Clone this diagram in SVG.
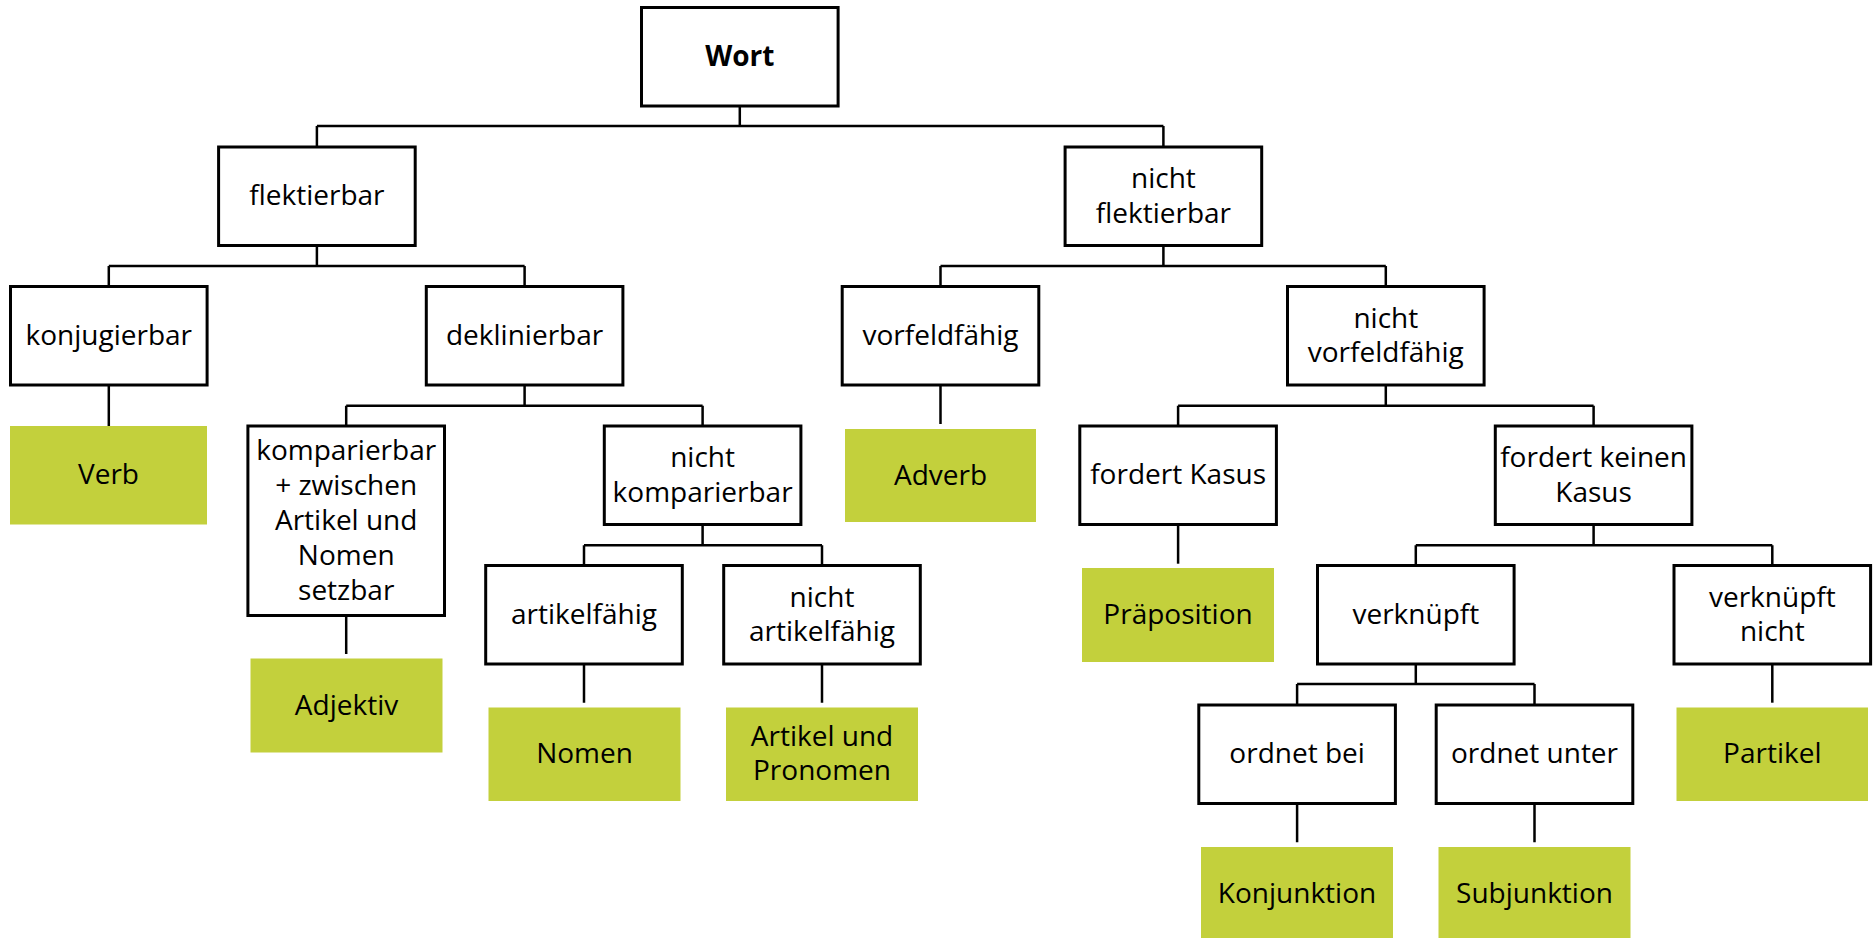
<svg xmlns="http://www.w3.org/2000/svg" width="1875" height="938" viewBox="0 0 1875 938">
<style>
.b{fill:#fff;stroke:#000;stroke-width:3}
.g{fill:#C3D03C;stroke:none}
.t{font-family:"Open Sans","Noto Sans","Liberation Sans",sans-serif;font-size:28px;fill:#000;text-anchor:middle}
.bold{font-weight:bold}
.c{fill:none;stroke:#000;stroke-width:2.5}
</style>
<rect width="1875" height="938" fill="#fff"/>
<g id="connectors" class="c">
<path d="M739.8,106V126M316.9,126H1163.4M316.9,126V147M1163.4,126V147"/>
<path d="M316.9,245.5V266M108.8,266H524.6M108.8,266V286.5M524.6,266V286.5"/>
<path d="M1163.4,245.5V266M940.5,266H1385.8M940.5,266V286.5M1385.8,266V286.5"/>
<path d="M108.8,385V426"/>
<path d="M524.6,385V405.7M346.2,405.7H702.6M346.2,405.7V426M702.6,405.7V426"/>
<path d="M940.5,385V424"/>
<path d="M1385.8,385V405.7M1178.1,405.7H1593.6M1178.1,405.7V426M1593.6,405.7V426"/>
<path d="M346.2,615.5V654"/>
<path d="M702.6,524.5V545.3M584,545.3H822M584,545.3V565.5M822,545.3V565.5"/>
<path d="M1178.1,524.5V563.7"/>
<path d="M1593.6,524.5V545.3M1415.8,545.3H1772.3M1415.8,545.3V565.5M1772.3,545.3V565.5"/>
<path d="M584,664V702.7M822,664V702.7"/>
<path d="M1415.8,664V684M1297.1,684H1534.5M1297.1,684V705M1534.5,684V705"/>
<path d="M1772.3,664V702.7"/>
<path d="M1297.1,803.5V842.3M1534.5,803.5V842.3"/>
</g>
<g id="wort"><rect class="b" x="641.5" y="7.5" width="196.6" height="98.5"/><text class="t bold" x="739.8" y="65.8">Wort</text></g>
<g id="flektierbar"><rect class="b" x="218.6" y="147" width="196.6" height="98.5"/><text class="t" x="316.9" y="205.3">flektierbar</text></g>
<g id="nicht-flektierbar"><rect class="b" x="1065.1" y="147" width="196.6" height="98.5"/><text class="t" x="1163.4" y="188">nicht</text><text class="t" x="1163.4" y="222.5">flektierbar</text></g>
<g id="konjugierbar"><rect class="b" x="10.5" y="286.5" width="196.6" height="98.5"/><text class="t" x="108.8" y="344.8">konjugierbar</text></g>
<g id="deklinierbar"><rect class="b" x="426.3" y="286.5" width="196.6" height="98.5"/><text class="t" x="524.6" y="344.8">deklinierbar</text></g>
<g id="vorfeldfaehig"><rect class="b" x="842.2" y="286.5" width="196.6" height="98.5"/><text class="t" x="940.5" y="344.8">vorfeldfähig</text></g>
<g id="nicht-vorfeldfaehig"><rect class="b" x="1287.5" y="286.5" width="196.6" height="98.5"/><text class="t" x="1385.8" y="327.5">nicht</text><text class="t" x="1385.8" y="362">vorfeldfähig</text></g>
<g id="verb"><rect class="g" x="10" y="426" width="197" height="98.5"/><text class="t" x="108.5" y="484.3">Verb</text></g>
<g id="komparierbar"><rect class="b" x="247.9" y="426" width="196.6" height="189.5"/><text class="t" x="346.2" y="459.5">komparierbar</text><text class="t" x="346.2" y="494.5">+ zwischen</text><text class="t" x="346.2" y="529.5">Artikel und</text><text class="t" x="346.2" y="564.5">Nomen</text><text class="t" x="346.2" y="599.5">setzbar</text></g>
<g id="nicht-komparierbar"><rect class="b" x="604.3" y="426" width="196.6" height="98.5"/><text class="t" x="702.6" y="467">nicht</text><text class="t" x="702.6" y="501.5">komparierbar</text></g>
<g id="adverb"><rect class="g" x="845" y="429" width="191" height="93"/><text class="t" x="940.5" y="484.5">Adverb</text></g>
<g id="fordert-kasus"><rect class="b" x="1079.8" y="426" width="196.6" height="98.5"/><text class="t" x="1178.1" y="484.3">fordert Kasus</text></g>
<g id="fordert-keinen-kasus"><rect class="b" x="1495.3" y="426" width="196.6" height="98.5"/><text class="t" x="1593.6" y="467">fordert keinen</text><text class="t" x="1593.6" y="501.5">Kasus</text></g>
<g id="adjektiv"><rect class="g" x="250.5" y="658.5" width="192" height="94"/><text class="t" x="346.5" y="714.5">Adjektiv</text></g>
<g id="artikelfaehig"><rect class="b" x="485.7" y="565.5" width="196.6" height="98.5"/><text class="t" x="584" y="623.8">artikelfähig</text></g>
<g id="nicht-artikelfaehig"><rect class="b" x="723.7" y="565.5" width="196.6" height="98.5"/><text class="t" x="822" y="606.5">nicht</text><text class="t" x="822" y="641">artikelfähig</text></g>
<g id="praeposition"><rect class="g" x="1082" y="568" width="192" height="94"/><text class="t" x="1178" y="624">Präposition</text></g>
<g id="verknuepft"><rect class="b" x="1317.5" y="565.5" width="196.6" height="98.5"/><text class="t" x="1415.8" y="623.8">verknüpft</text></g>
<g id="verknuepft-nicht"><rect class="b" x="1674" y="565.5" width="196.6" height="98.5"/><text class="t" x="1772.3" y="606.5">verknüpft</text><text class="t" x="1772.3" y="641">nicht</text></g>
<g id="nomen"><rect class="g" x="488.5" y="707.5" width="192" height="93.5"/><text class="t" x="584.5" y="763">Nomen</text></g>
<g id="artikel-pronomen"><rect class="g" x="726" y="707.5" width="192" height="93.5"/><text class="t" x="822" y="745.5">Artikel und</text><text class="t" x="822" y="780">Pronomen</text></g>
<g id="partikel"><rect class="g" x="1676.5" y="707.5" width="191.5" height="93.5"/><text class="t" x="1772.3" y="763">Partikel</text></g>
<g id="ordnet-bei"><rect class="b" x="1198.8" y="705" width="196.6" height="98.5"/><text class="t" x="1297.1" y="763.3">ordnet bei</text></g>
<g id="ordnet-unter"><rect class="b" x="1436.2" y="705" width="196.6" height="98.5"/><text class="t" x="1534.5" y="763.3">ordnet unter</text></g>
<g id="konjunktion"><rect class="g" x="1201" y="847" width="192" height="100"/><text class="t" x="1297" y="903">Konjunktion</text></g>
<g id="subjunktion"><rect class="g" x="1438.5" y="847" width="192" height="100"/><text class="t" x="1534.5" y="903">Subjunktion</text></g>
</svg>
